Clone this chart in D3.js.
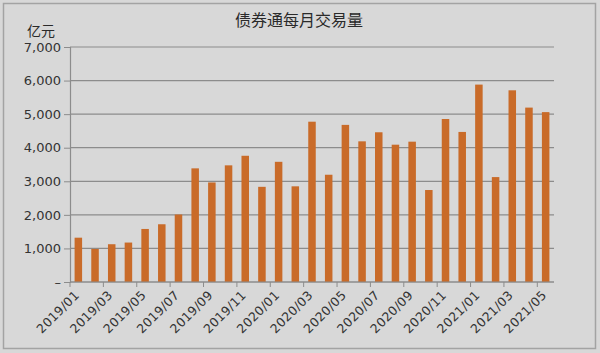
<!DOCTYPE html>
<html>
<head>
<meta charset="utf-8">
<script src="https://cdn.jsdelivr.net/npm/d3@7"></script>
<style>
  body { margin: 0; background: #d8d8d8; }
  svg { display: block; }
</style>
</head>
<body>
<svg id="chart"></svg>
<script>
// months, every bar
var months = [
  '2019/01','2019/02','2019/03','2019/04','2019/05','2019/06','2019/07','2019/08','2019/09','2019/10','2019/11','2019/12',
  '2020/01','2020/02','2020/03','2020/04','2020/05','2020/06','2020/07','2020/08','2020/09','2020/10','2020/11','2020/12',
  '2021/01','2021/02','2021/03','2021/04','2021/05'
];
// monthly volume, 亿元
var volumes = [
  1320, 985, 1125, 1175, 1580, 1720, 2010, 3385, 2965, 3475, 3760, 2835,
  3580, 2850, 4775, 3195, 4680, 4190, 4460, 4090, 4180, 2740, 4855, 4470,
  5880, 3125, 5710, 5195, 5060
];
var yTicks = [0, 1000, 2000, 3000, 4000, 5000, 6000, 7000];
var xTickLabels = months.filter(function (d, i) { return i % 2 === 0; });

var W = 600, H = 353;
var margin = { top: 47, right: 46, bottom: 71, left: 70 },
  width = W - margin.left - margin.right,
  height = H - margin.top - margin.bottom;

var root = d3.select("#chart").attr("width", W).attr("height", H);

root.append("rect")
  .attr("x", 3.5).attr("y", 3.5)
  .attr("width", W - 8).attr("height", H - 8)
  .attr("fill", "#d8d8d8")
  .attr("stroke", "#a3a3a3")
  .attr("stroke-width", 1.5);

root.append("text")
  .attr("x", 299).attr("y", 26)
  .attr("text-anchor", "middle")
  .attr("font-family", "'Noto Sans CJK SC', sans-serif")
  .attr("font-size", 16)
  .attr("fill", "#2a2a2a")
  .text("债券通每月交易量");

root.append("text")
  .attr("x", 27).attr("y", 36)
  .attr("font-family", "'Noto Sans CJK SC', sans-serif")
  .attr("font-size", 14)
  .attr("fill", "#2a2a2a")
  .text("亿元");

var svg = root.append("g")
  .attr("transform", "translate(" + margin.left + "," + margin.top + ")");

var x = d3.scaleBand().domain(months).range([0, width]).paddingInner(0.55).paddingOuter(0.275);
var y = d3.scaleLinear().domain([0, 7000]).range([height, 0]);

// gridlines
svg.selectAll(".grid")
  .data(yTicks)
  .enter()
  .append("line")
  .attr("x1", 0).attr("x2", width)
  .attr("y1", function (d) { return y(d); })
  .attr("y2", function (d) { return y(d); })
  .attr("stroke", "#8c8c8c")
  .attr("stroke-width", 1.2);

svg.selectAll(".bar")
  .data(volumes)
  .enter()
  .append("rect")
  .attr("x", function (d, i) { return x(months[i]); })
  .attr("width", x.bandwidth())
  .attr("y", function (d) { return y(d); })
  .attr("height", function (d) { return height - y(d); })
  .attr("fill", "#c96b29");

// y axis
var yAxis = svg.append("g")
  .call(d3.axisLeft(y).tickValues(yTicks).tickSize(6).tickPadding(3)
    .tickFormat(function (d) { return d === 0 ? "–   " : d3.format(",")(d); }));
yAxis.select(".domain").attr("stroke", "#8c8c8c").attr("stroke-width", 1.2);
yAxis.selectAll(".tick line").attr("stroke", "#8c8c8c");
yAxis.selectAll("text")
  .attr("font-family", "'DejaVu Sans', sans-serif")
  .attr("font-size", 13)
  .attr("fill", "#333");

// x axis, ticks on the left edge of every other month
var edge = x.step() * x.paddingInner() / 2;
var xAxis = svg.append("g").attr("transform", "translate(0," + height + ")");
xAxis.append("line")
  .attr("x1", 0).attr("x2", width)
  .attr("stroke", "#8c8c8c").attr("stroke-width", 1.2);
var xt = xAxis.selectAll(".xt")
  .data(xTickLabels)
  .enter()
  .append("g")
  .attr("transform", function (d) { return "translate(" + (x(d) - edge) + ",0)"; });
xt.append("line").attr("y2", 5).attr("stroke", "#8c8c8c");
xt.append("text")
  .attr("transform", "translate(10,14) rotate(-45)")
  .attr("text-anchor", "end")
  .attr("font-family", "'DejaVu Sans', sans-serif")
  .attr("font-size", 12.5)
  .attr("letter-spacing", 0.3)
  .attr("fill", "#333")
  .text(function (d) { return d; });
</script>
</body>
</html>
